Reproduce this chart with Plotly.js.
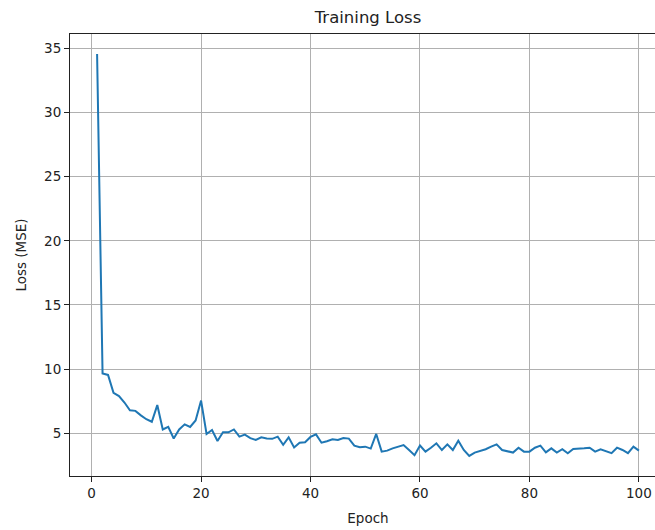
<!DOCTYPE html>
<html>
<head>
<meta charset="utf-8">
<script src="https://cdn.plot.ly/plotly-3.0.1.min.js"></script>
<style>
html, body { margin: 0; padding: 0; overflow: hidden; background: #fff; }
#chart { width: 672px; height: 530px; }
</style>
</head>
<body>
<div id="chart"></div>
<script>
const epochs = Array.from({length: 100}, (_, i) => i + 1);
const loss = [
  34.55, 9.66, 9.55, 8.15, 7.9, 7.4, 6.8, 6.75, 6.4, 6.1,
  5.9, 7.2, 5.3, 5.5, 4.6, 5.3, 5.7, 5.5, 6.0, 7.55,
  4.95, 5.26, 4.4, 5.08, 5.08, 5.3, 4.74, 4.9, 4.63, 4.48,
  4.69, 4.6, 4.57, 4.74, 4.11, 4.69, 3.9, 4.27, 4.3, 4.72,
  4.92, 4.27, 4.38, 4.53, 4.48, 4.64, 4.59, 4.04, 3.91, 3.96,
  3.81, 4.95, 3.57, 3.65, 3.83, 3.96, 4.09, 3.7, 3.3, 4.05,
  3.57, 3.88, 4.22, 3.7, 4.14, 3.7, 4.43, 3.7, 3.24, 3.5,
  3.63, 3.76, 3.96, 4.14, 3.7, 3.57, 3.5, 3.88, 3.57, 3.57,
  3.88, 4.04, 3.52, 3.83, 3.5, 3.76, 3.45, 3.78, 3.78, 3.83,
  3.88, 3.57, 3.76, 3.63, 3.45, 3.88, 3.7, 3.45, 3.96, 3.65
];
const xTicks = [0, 20, 40, 60, 80, 100];
const yTicks = [5, 10, 15, 20, 25, 30, 35];

function mplRange(arr) {
  const lo = Math.min(...arr), hi = Math.max(...arr);
  const pad = (hi - lo) * 0.05;
  return [lo - pad, hi + pad];
}

const font = {family: 'DejaVu Sans, sans-serif', size: 13.5, color: '#222'};

const axisCommon = {
  showline: true, mirror: true, linecolor: '#222', linewidth: 1,
  showgrid: true, gridcolor: '#b0b0b0', gridwidth: 1,
  ticks: 'outside', ticklen: 5, tickwidth: 1, tickcolor: '#222',
  zeroline: false, tickfont: font
};

Plotly.newPlot('chart', [{
  x: epochs, y: loss, type: 'scatter', mode: 'lines',
  line: {color: '#1f77b4', width: 2}
}], {
  width: 672, height: 530,
  margin: {l: 70, r: 6, t: 34, b: 54},
  paper_bgcolor: '#fff', plot_bgcolor: '#fff',
  font: font,
  showlegend: false,
  title: {text: 'Training Loss', font: {family: 'DejaVu Sans, sans-serif', size: 16.5, color: '#222'},
          x: 0.5, xref: 'paper', y: 1 - 17 / 530, yref: 'container', yanchor: 'middle'},
  xaxis: Object.assign({}, axisCommon, {
    range: mplRange(epochs), tickvals: xTicks, ticktext: xTicks.map(String),
    title: {text: 'Epoch', font: font, standoff: 13}
  }),
  yaxis: Object.assign({}, axisCommon, {
    range: mplRange(loss), tickvals: yTicks, ticktext: yTicks.map(String),
    title: {text: 'Loss (MSE)', font: font, standoff: 14}
  })
}, {displayModeBar: false, staticPlot: true});
</script>
</body>
</html>
